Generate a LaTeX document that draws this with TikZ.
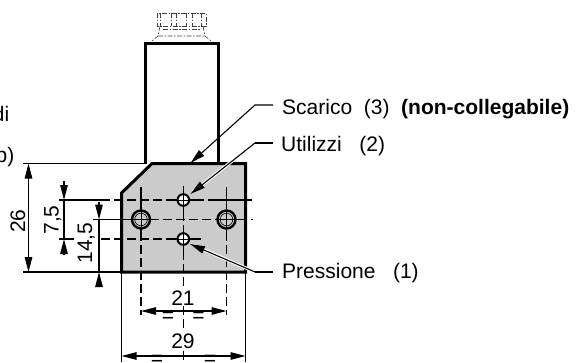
\documentclass[tikz,border=0pt]{standalone}
\usepackage{fontspec}
\setmainfont{Liberation Sans}
\usetikzlibrary{arrows.meta}
\definecolor{blockgray}{HTML}{CBCBCB}
\tikzset{
  x=1pt,y=-1pt,
  outline/.style={line width=3pt,line join=miter},
  thin line/.style={line width=1.1pt,black},
  center dash/.style={thin line,dash pattern=on 9pt off 4pt},
  phantom/.style={line width=0.6pt,black!75,dash pattern=on 5pt off 1.5pt on 1.5pt off 1.5pt},
  dim/.style={thin line,{Triangle[length=15pt,width=7.5pt]}-{Triangle[length=15pt,width=7.5pt]}},
  tipend/.style={thin line,-{Triangle[length=15pt,width=7.5pt]}},
  halo/.style={white,line width=3.2pt},
  lab/.style={font=\fontsize{21}{24}\selectfont,inner sep=0pt},
}
\begin{document}
\begin{tikzpicture}
\useasboundingbox (0,0) rectangle (576,362);
% named points
\coordinate (BL) at (121.5,272);
\coordinate (BR) at (245.5,272);
\coordinate (TR) at (245.5,163.5);
\coordinate (CH1) at (152,163.5);
\coordinate (CH2) at (121.5,193);
\coordinate (hT) at (183.3,200);
\coordinate (hB) at (183.3,239);
\coordinate (hL) at (141,219.5);
\coordinate (hR) at (226.5,219.5);
% phantom knob
\draw[phantom] (157,13) rectangle (206,26);
\draw[phantom] (160,13) -- (160,26) (171,13) -- (171,26) (176,13) -- (176,26) (186,13) -- (186,26) (192,13) -- (192,26) (201,13) -- (201,26);
\draw[phantom] (160,26) -- (158,36) -- (152,41) (203,26) -- (205,36) -- (211,41) (158,36) -- (205,36);
\draw[phantom] (163,29) -- (201,29);
% column
\draw[outline] (145,163.5) -- (145,43) -- (218,43) -- (218,163.5);
% extension lines behind block
\draw[thin line] (23,163.5) -- (146,163.5);
\draw[thin line] (23,272) -- (121.5,272);
\draw[thin line] (121.5,272) -- (121.5,362);
\draw[thin line] (245.5,272) -- (245.5,362);
% block
\draw[outline,fill=blockgray] (CH2) -- (CH1) -- (TR) -- (BR) -- (BL) -- cycle;
% horizontal centre lines
\draw[thin line] (59,200) -- (101,200);
\draw[center dash] (101,200) -- (172,200);
\draw[thin line] (172,200) -- (195,200);
\draw[center dash] (195,200) -- (215,200);
\draw[thin line] (215,200) -- (252,200);
\draw[thin line] (93,219.5) -- (150,219.5);
\draw[center dash] (150,219.5) -- (215,219.5);
\draw[thin line] (215,219.5) -- (238,219.5);
\draw[center dash] (238,219.5) -- (253,219.5);
\draw[thin line] (59,239) -- (74,239);
\draw[center dash] (101,239) -- (172,239);
\draw[thin line] (172,239) -- (201,239);
% vertical centre lines
\draw[thin line] (141,187) -- (141,232);
\draw[center dash] (141,232) -- (141,315);
\draw[thin line] (226.5,187) -- (226.5,232);
\draw[center dash] (226.5,232) -- (226.5,315);
\draw[thin line] (183.3,186) -- (183.3,212);
\draw[center dash] (183.3,212) -- (183.3,228);
\draw[thin line] (183.3,228) -- (183.3,251);
\draw[center dash] (183.3,251) -- (183.3,287);
\draw[center dash] (183.3,306) -- (183.3,330);
\draw[center dash] (183.3,351) -- (183.3,362);
% holes
\foreach \h in {hT,hB}{
  \draw[line width=2pt,fill=white] (\h) circle (5.8pt);
  \draw[line width=0.8pt] ([xshift=-5.8pt]\h) -- ([xshift=5.8pt]\h) ([yshift=-5.8pt]\h) -- ([yshift=5.8pt]\h);
}
\foreach \h in {hL,hR}{
  \draw[line width=2.4pt,fill=blockgray] (\h) circle (9pt);
  \draw[line width=0.6pt] (\h) circle (6.3pt);
  \draw[line width=0.9pt] ([xshift=-9pt]\h) -- ([xshift=9pt]\h) ([yshift=-9pt]\h) -- ([yshift=9pt]\h);
}
% dimensions
\draw[dim] (28.5,163.5) -- (28.5,272);
\draw[tipend] (64,181) -- (64,200);
\draw[tipend] (64,255) -- (64,239);
\draw[thin line] (64,200) -- (64,239);
\draw[tipend] (99,202) -- (99,219.5);
\draw[tipend] (99,285) -- (99,272);
\draw[thin line] (99,219.5) -- (99,272);
\draw[dim] (141,311) -- (226.5,311);
\draw[dim] (121.5,356) -- (245.5,356);
% labels of dimensions
\node[lab,rotate=90,anchor=base] (d26) at (25,221) {26};
\node[lab,rotate=90,anchor=base] (d75) at (58.5,220) {7,5};
\node[lab,rotate=90,anchor=base] (d145) at (92,243) {14,5};
\node[lab] (d21) at (183,298) {21};
\node[lab] (d29) at (183,341) {29};
\node[lab] (eq1) at (168,317) {=};
\node[lab] (eq2) at (198.5,317) {=};
\node[lab] (eq3) at (157,360.5) {=};
\node[lab] (eq4) at (210,360.5) {=};
% cut-off text at the left edge
\node[lab,anchor=base east] (cutA) at (9.5,121.5) {di};
\node[lab,anchor=base east] (cutB) at (14.5,162.5) {p)};
% callout labels
\node[lab,anchor=base west] (sc) at (282,114) {Scarico\ \ (3)\ \ \textbf{(non-collegabile)}};
\node[lab,anchor=base west] (ut) at (281,151) {Utilizzi\ \ \ (2)};
\node[lab,anchor=base west] (pr) at (282,278) {Pressione\ \ \ (1)};
\coordinate (scA) at (273,105);
\coordinate (scB) at (255,105);
\coordinate (utA) at (273,143);
\coordinate (utB) at (255,143);
\coordinate (prA) at (273,272);
\coordinate (prB) at (255,272);
% callouts
\draw[tipend] (scA) -- (scB) -- (190.5,163);
\draw[halo] (utB) -- (193,192);
\draw[thin line] (utA) -- (utB);
\draw[tipend] (utB) -- (190.5,194);
\draw[halo] (prB) -- (193,245);
\draw[thin line] (prA) -- (prB);
\draw[tipend] (prB) -- (190,244);
\end{tikzpicture}
\end{document}
